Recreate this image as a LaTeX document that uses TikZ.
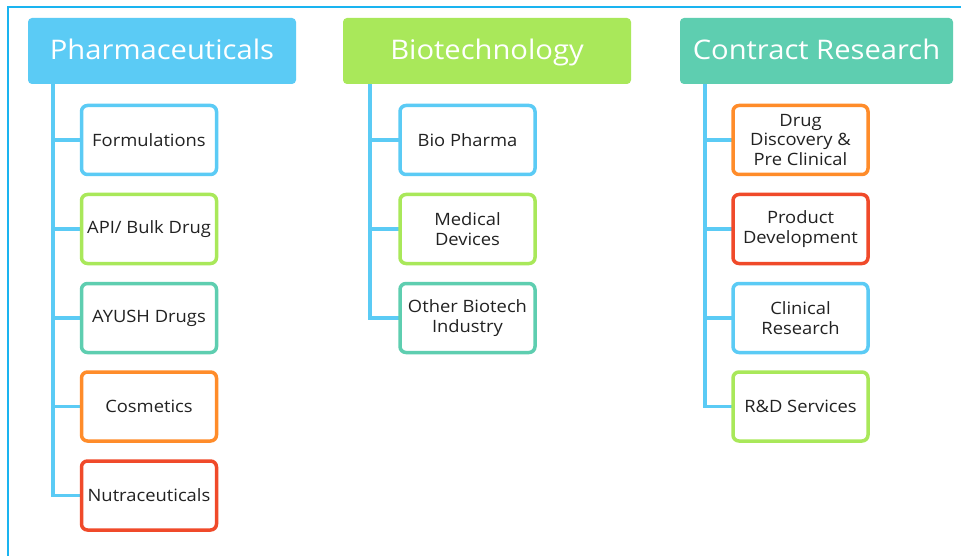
\documentclass[tikz,border=0pt]{standalone}
\usepackage{fontspec}
\setmainfont{Open Sans}
\newfontfamily\widefont[FakeStretch=1.08]{Open Sans}
\definecolor{cblue}{HTML}{5BCBF5}
\definecolor{cgreen}{HTML}{A9E85A}
\definecolor{cteal}{HTML}{5ECEB0}
\definecolor{corange}{HTML}{FF8C2A}
\definecolor{cred}{HTML}{F04A2A}
\definecolor{cframe}{HTML}{1AB4F0}
\definecolor{ctext}{HTML}{222222}
\begin{document}
\begin{tikzpicture}[x=1pt,y=-1pt,
  header/.style={rounded corners=4pt, inner sep=0pt, minimum height=66pt, text height=22pt, text depth=5pt, text=white, font=\widefont\fontsize{27}{30}\selectfont},
  item/.style={draw=#1, line width=3.5pt, rounded corners=6pt, fill=white, inner sep=0pt, minimum width=135pt, minimum height=69pt, align=center, text=ctext, font=\widefont\fontsize{17}{19.5}\selectfont},
  conn/.style={draw=cblue, line width=3.5pt}
]
\useasboundingbox (0,0) rectangle (961,556);
\fill[white] (0,0) rectangle (961,556);
\draw[cframe, line width=2pt] (8,556) -- (8,7) -- (961,7);

\node[header, fill=cblue, minimum width=268pt] (h1) at (162,51) {Pharmaceuticals};
\node[header, fill=cgreen, minimum width=288pt] (h2) at (487,51) {Biotechnology};
\node[header, fill=cteal, minimum width=273pt] (h3) at (816.5,51) {Contract Research};

% column 1
\coordinate (t1) at ([xshift=25pt]h1.south west);
\foreach \n/\y/\c/\t in {a1/140/cblue/Formulations, a2/229/cgreen/{API/ Bulk Drug}, a3/318/cteal/AYUSH Drugs, a4/406.5/corange/Cosmetics, a5/495.5/cred/Nutraceuticals}{
  \draw[conn] (t1) |- (149,\y);
  \node[item=\c] (\n) at (149,\y) {\t};
}
% column 2
\coordinate (t2) at ([xshift=27pt]h2.south west);
\foreach \n/\y/\c/\t in {b1/140/cblue/Bio Pharma, b2/229/cgreen/Medical\\Devices, b3/318/cteal/Other Biotech\\Industry}{
  \draw[conn] (t2) |- (467.5,\y);
  \node[item=\c] (\n) at (467.5,\y) {\t};
}
% column 3
\coordinate (t3) at ([xshift=25pt]h3.south west);
\foreach \n/\y/\c/\t in {c1/140/corange/Drug\\Discovery \&\\Pre Clinical, c2/229/cred/Product\\Development, c3/318/cblue/Clinical\\Research, c4/406.5/cgreen/R\&D Services}{
  \draw[conn] (t3) |- (800.5,\y);
  \node[item=\c] (\n) at (800.5,\y) {\t};
}
\end{tikzpicture}
\end{document}
